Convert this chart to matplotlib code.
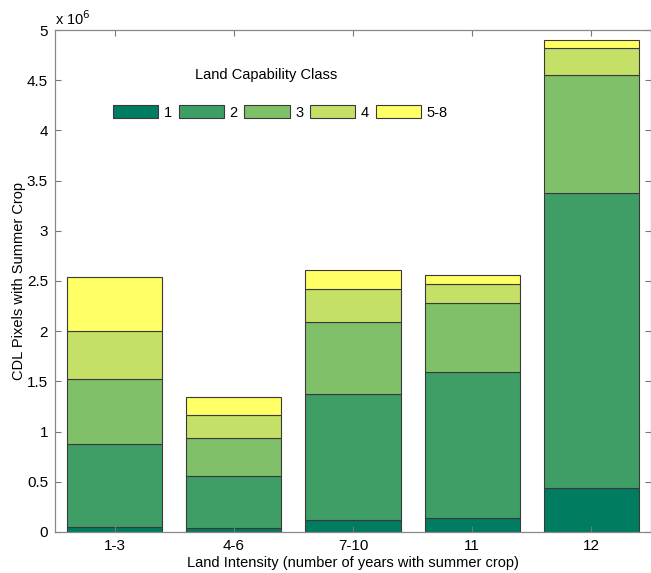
import numpy as np
import matplotlib
matplotlib.use('Agg')
import matplotlib.pyplot as plt
from matplotlib.ticker import FormatStrFormatter

plt.rcParams['font.family'] = ['Liberation Sans', 'DejaVu Sans']

# %% data (pixel counts, millions)
groups = ['1-3', '4-6', '7-10', '11', '12']
classes = ['1', '2', '3', '4', '5-8']
class_1 = [0.05, 0.04, 0.12, 0.14, 0.44]
class_2 = [0.83, 0.52, 1.25, 1.45, 2.94]
class_3 = [0.64, 0.38, 0.72, 0.69, 1.17]
class_4 = [0.48, 0.23, 0.33, 0.19, 0.27]
class_5_8 = [0.54, 0.17, 0.19, 0.09, 0.08]
colors = ['#007C60', '#3E9E66', '#80C068', '#C5E066', '#FFFF66']

# %% plot
fig = plt.figure(figsize=(6.51, 5.73), dpi=100)
ax = fig.add_axes([0.0845, 0.0716, 0.9155, 0.876])

x = np.arange(1, len(groups) + 1)
bottom = np.zeros(len(groups))
for vals, col, lab in zip([class_1, class_2, class_3, class_4, class_5_8], colors, classes):
    ax.bar(x, vals, width=0.8, bottom=bottom, color=col, edgecolor='#3a3a3a',
           linewidth=0.8, label=lab)
    bottom = bottom + np.array(vals)

ax.set_xlim(0.5, 5.5)
ax.set_ylim(0, 5)
ax.set_xticks(x)
ax.set_xticklabels(groups)
ax.set_yticks(np.arange(0, 5.01, 0.5))
ax.yaxis.set_major_formatter(FormatStrFormatter('%g'))
ax.tick_params(direction='in', top=True, right=True, length=4, width=0.8,
               color='#777777', labelsize=11, pad=5)
for sp in ax.spines.values():
    sp.set_color('#888888')
    sp.set_linewidth(0.9)

ax.set_xlabel('Land Intensity (number of years with summer crop)', fontsize=10.5, labelpad=2)
ax.set_ylabel('CDL Pixels with Summer Crop', fontsize=10.5, labelpad=1)
ax.text(0.0, 1.005, r'x 10$^6$', transform=ax.transAxes, fontsize=10.5,
        ha='left', va='bottom')

ax.text(0.355, 0.91, 'Land Capability Class', transform=ax.transAxes,
        fontsize=10.5, ha='center', va='center')
ax.legend(ncol=5, frameon=False, loc='center left', bbox_to_anchor=(0.075, 0.836),
          handlelength=3.1, handleheight=1.0, handletextpad=0.4, columnspacing=0.45,
          fontsize=10.5)

plt.savefig('out.png', dpi=100)
